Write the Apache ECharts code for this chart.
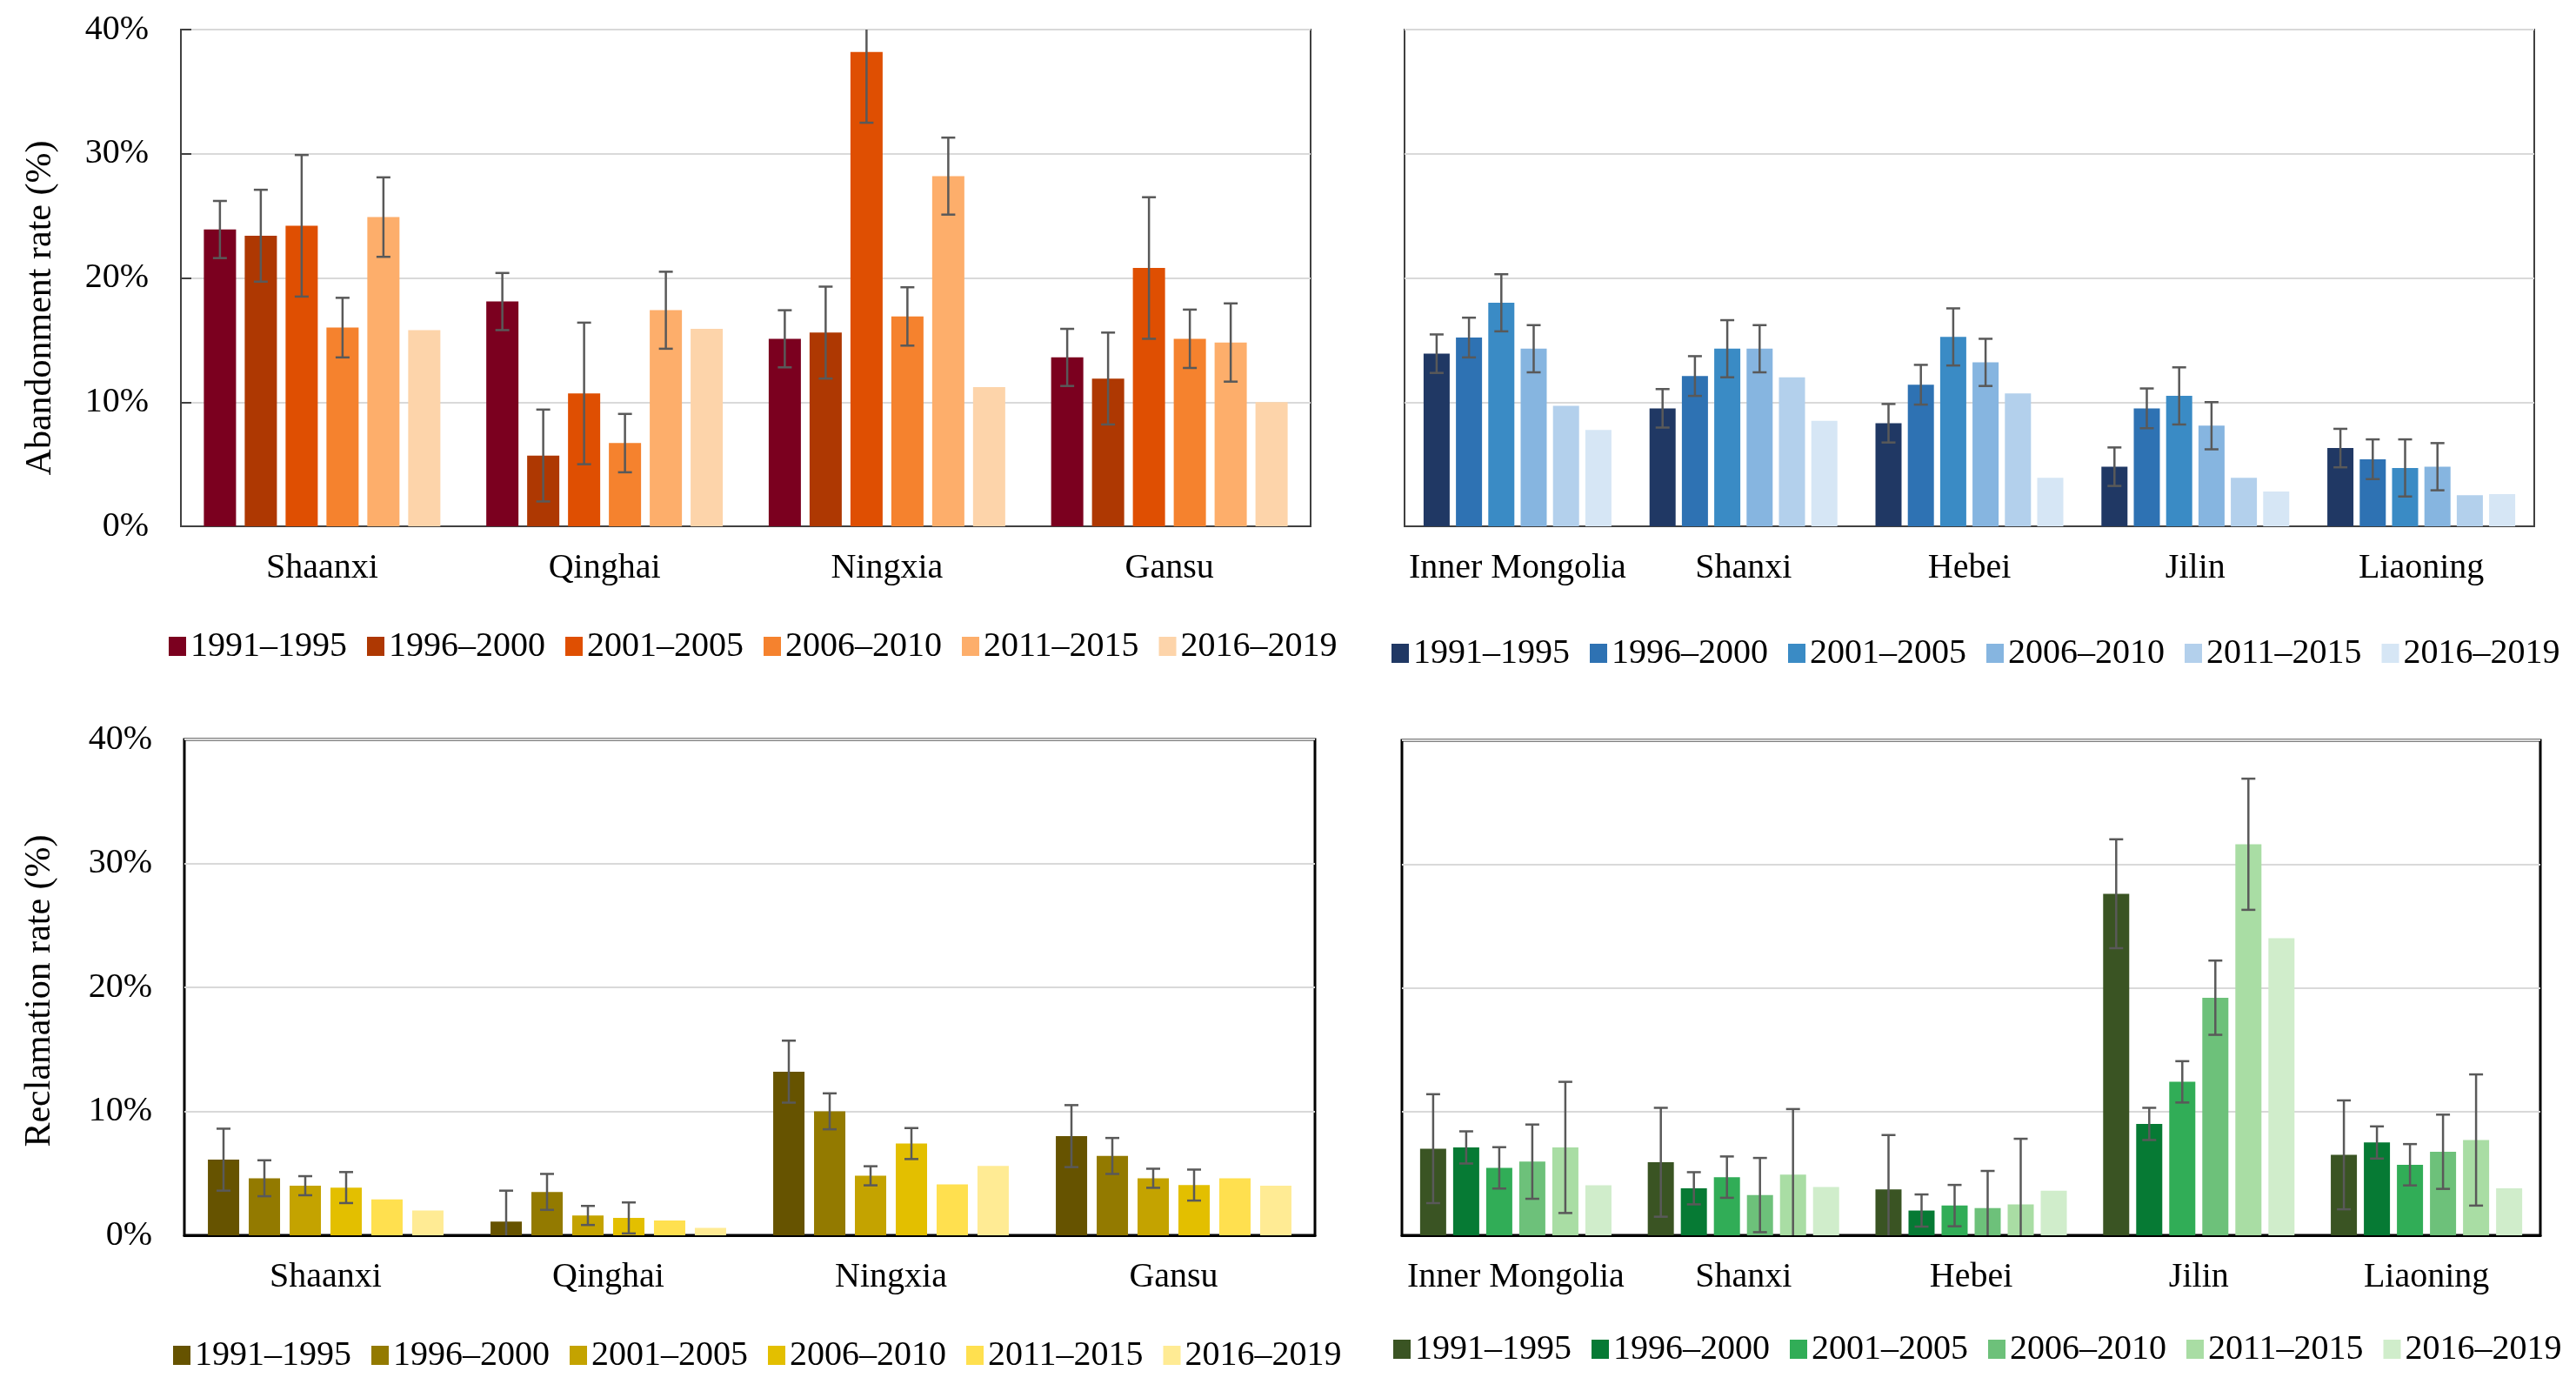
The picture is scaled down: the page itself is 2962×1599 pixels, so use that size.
<!DOCTYPE html>
<html>
<head>
<meta charset="utf-8">
<script src="https://cdn.jsdelivr.net/npm/echarts@6/dist/echarts.min.js"></script>
<style>
  html, body { margin: 0; padding: 0; background: #fff; }
  #chart { width: 2962px; height: 1599px; }
</style>
</head>
<body>
<div id="chart"></div>
<script>
// ---------------- DATA ----------------
const periods = ['1991–1995', '1996–2000', '2001–2005', '2006–2010', '2011–2015', '2016–2019'];
const westProvinces = ['Shaanxi', 'Qinghai', 'Ningxia', 'Gansu'];
const northProvinces = ['Inner Mongolia', 'Shanxi', 'Hebei', 'Jilin', 'Liaoning'];
const yTicks = [0, 10, 20, 30, 40];

// Abandonment rate (%) — west provinces, one array per period
const abandonWest = [
  [23.9, 18.1, 15.1, 13.6],
  [23.4, 5.7, 15.6, 11.9],
  [24.2, 10.7, 38.2, 20.8],
  [16.0, 6.7, 16.9, 15.1],
  [24.9, 17.4, 28.2, 14.8],
  [15.8, 15.9, 11.2, 10.0]
];
const abandonWestErr = [
  [2.3, 2.3, 2.3, 2.3],
  [3.7, 3.7, 3.7, 3.7],
  [5.7, 5.7, 5.7, 5.7],
  [2.4, 2.35, 2.35, 2.35],
  [3.2, 3.1, 3.1, 3.15],
  null
];

// Abandonment rate (%) — north provinces
const abandonNorth = [
  [13.9, 9.5, 8.3, 4.8, 6.3],
  [15.2, 12.1, 11.4, 9.5, 5.4],
  [18.0, 14.3, 15.25, 10.5, 4.7],
  [14.3, 14.3, 13.2, 8.1, 4.8],
  [9.7, 12.0, 10.7, 3.9, 2.5],
  [7.75, 8.5, 3.9, 2.8, 2.6]
];
const abandonNorthErr = [
  [1.55, 1.55, 1.55, 1.55, 1.55],
  [1.6, 1.6, 1.6, 1.6, 1.6],
  [2.3, 2.3, 2.3, 2.3, 2.3],
  [1.9, 1.9, 1.9, 1.9, 1.9],
  null,
  null
];

// Reclamation rate (%) — west provinces
const reclaimWest = [
  [6.1, 1.1, 13.2, 8.0],
  [4.6, 3.5, 10.0, 6.4],
  [4.0, 1.6, 4.8, 4.6],
  [3.85, 1.4, 7.4, 4.05],
  [2.9, 1.2, 4.1, 4.6],
  [2.0, 0.6, 5.6, 4.0]
];
const reclaimWestErr = [
  [2.5, 2.5, 2.5, 2.5],
  [1.45, 1.45, 1.45, 1.45],
  [0.77, 0.77, 0.77, 0.77],
  [1.25, 1.25, 1.25, 1.25],
  null,
  null
];

// Reclamation rate (%) — north provinces
const reclaimNorth = [
  [7.0, 5.9, 3.7, 27.6, 6.5],
  [7.1, 3.8, 2.0, 9.0, 7.5],
  [5.45, 4.7, 2.4, 12.4, 5.7],
  [5.95, 3.25, 2.2, 19.2, 6.75],
  [7.1, 4.9, 2.5, 31.6, 7.7],
  [4.05, 3.9, 3.6, 24.0, 3.8]
];
const reclaimNorthErr = [
  [4.4, 4.4, 4.4, 4.4, 4.4],
  [1.3, 1.3, 1.3, 1.3, 1.3],
  [1.67, 1.67, 1.67, 1.67, 1.67],
  [3.0, 3.0, 3.0, 3.0, 3.0],
  [5.3, 5.3, 5.3, 5.3, 5.3],
  null
];

// ---------------- STYLE ----------------
const orangeColors = ['#7B001F', '#AE3802', '#DF4F02', '#F5822E', '#FDAE6B', '#FDD4AA'];
const blueColors = ['#203864', '#2E72B3', '#3A8BC5', '#86B5E0', '#B3D0EC', '#D6E6F5'];
const yellowColors = ['#665300', '#937A00', '#C4A300', '#E3BF00', '#FFE04F', '#FFEB94'];
const greenColors = ['#3A5423', '#067A34', '#31AD57', '#6DC17A', '#A9DDA4', '#D0EDCB'];

const FONT = "'Liberation Serif', 'Times New Roman', serif";

const panels = [
  { cats: westProvinces, vals: abandonWest, errs: abandonWestErr, colors: orangeColors,
    grid: { left: 208, top: 34, width: 1299, height: 571 }, barW: 37, barGap: '27%', pitch: 47,
    border: '#404040', bw: 2, yLabels: true, ticks: true, legendLeft: 194, legendCenter: 743 },
  { cats: northProvinces, vals: abandonNorth, errs: abandonNorthErr, colors: blueColors,
    grid: { left: 1615, top: 34, width: 1299, height: 571 }, barW: 30, barGap: '24%', pitch: 37.2,
    border: '#404040', bw: 2, yLabels: false, ticks: false, legendLeft: 1600, legendCenter: 751 },
  { cats: westProvinces, vals: reclaimWest, errs: reclaimWestErr, colors: yellowColors,
    grid: { left: 212, top: 850, width: 1300, height: 570 }, barW: 36, barGap: '30.5%', pitch: 47,
    border: '#000000', bw: 3, yLabels: true, ticks: false, legendLeft: 199, legendCenter: 1558 },
  { cats: northProvinces, vals: reclaimNorth, errs: reclaimNorthErr, colors: greenColors,
    grid: { left: 1612, top: 851, width: 1309, height: 569 }, barW: 30, barGap: '26.7%', pitch: 38,
    border: '#000000', bw: 3, yLabels: false, ticks: false, legendLeft: 1602, legendCenter: 1551 }
];

const grids = [], xAxes = [], yAxes = [], series = [], legends = [];

panels.forEach((p, g) => {
  grids.push(Object.assign({ show: true, borderColor: p.border, borderWidth: p.bw, backgroundColor: 'transparent' }, p.grid));
  xAxes.push({
    type: 'category', gridIndex: g, data: p.cats,
    axisLine: { show: true, lineStyle: { color: p.border, width: p.bw } },
    axisTick: { show: false },
    axisLabel: { interval: 0, color: '#000', fontFamily: FONT, fontSize: 40, margin: 28 }
  });
  yAxes.push({
    type: 'value', gridIndex: g, min: yTicks[0], max: yTicks[yTicks.length - 1], interval: 10,
    axisLine: { show: false },
    axisTick: { show: p.ticks, inside: true, length: 12, lineStyle: { color: '#404040', width: 2 } },
    axisLabel: { show: p.yLabels, color: '#000', fontFamily: FONT, fontSize: 40, margin: 37,
      formatter: v => v + '%' },
    splitLine: { show: true, lineStyle: { color: '#D9D9D9', width: 2 } }
  });
  periods.forEach((name, i) => {
    series.push({
      type: 'bar', name: name, xAxisIndex: g, yAxisIndex: g,
      data: p.vals[i], barWidth: p.barW, barGap: p.barGap,
      itemStyle: { color: p.colors[i] }, z: 2
    });
    if (p.errs[i]) {
      const off = (i - 2.5) * p.pitch;
      series.push({
        type: 'custom', name: 'err-' + g + '-' + i, xAxisIndex: g, yAxisIndex: g, z: 5, clip: true,
        data: p.vals[i].map((v, k) => [k, v, p.errs[i][k]]),
        encode: { x: 0, y: 1 },
        renderItem: (params, api) => {
          const k = api.value(0), v = api.value(1), e = api.value(2);
          const c = api.coord([k, v]);
          const x = c[0] + off;
          const yTop = api.coord([k, v + e])[1];
          const yBot = api.coord([k, v - e])[1];
          const hw = 8;
          const st = { stroke: '#595959', lineWidth: 2.5 };
          return {
            type: 'group',
            children: [
              { type: 'line', shape: { x1: x, y1: yTop, x2: x, y2: yBot }, style: st },
              { type: 'line', shape: { x1: x - hw, y1: yTop, x2: x + hw, y2: yTop }, style: st },
              { type: 'line', shape: { x1: x - hw, y1: yBot, x2: x + hw, y2: yBot }, style: st }
            ]
          };
        }
      });
    }
  });
  legends.push({
    left: p.legendLeft, top: p.legendCenter - 20, orient: 'horizontal', padding: 0,
    itemWidth: 20, itemHeight: 22, itemGap: 23, icon: 'rect', selectedMode: false,
    textStyle: { color: '#000', fontFamily: FONT, fontSize: 40, lineHeight: 40 },
    data: periods.map((name, i) => ({ name: name, itemStyle: { color: p.colors[i] } }))
  });
});

const chart = echarts.init(document.getElementById('chart'), null, { renderer: 'canvas' });
chart.setOption({
  animation: false,
  backgroundColor: '#ffffff',
  grid: grids,
  xAxis: xAxes,
  yAxis: yAxes,
  legend: legends,
  series: series,
  graphic: [
    { type: 'text', x: 47, y: 354, rotation: Math.PI / 2,
      style: { text: 'Abandonment rate (%)', fill: '#000', font: "42px 'Liberation Serif', serif",
        align: 'center', verticalAlign: 'middle' } },
    { type: 'text', x: 46, y: 1139, rotation: Math.PI / 2,
      style: { text: 'Reclamation rate (%)', fill: '#000', font: "42px 'Liberation Serif', serif",
        align: 'center', verticalAlign: 'middle' } }
  ]
});
</script>
</body>
</html>
